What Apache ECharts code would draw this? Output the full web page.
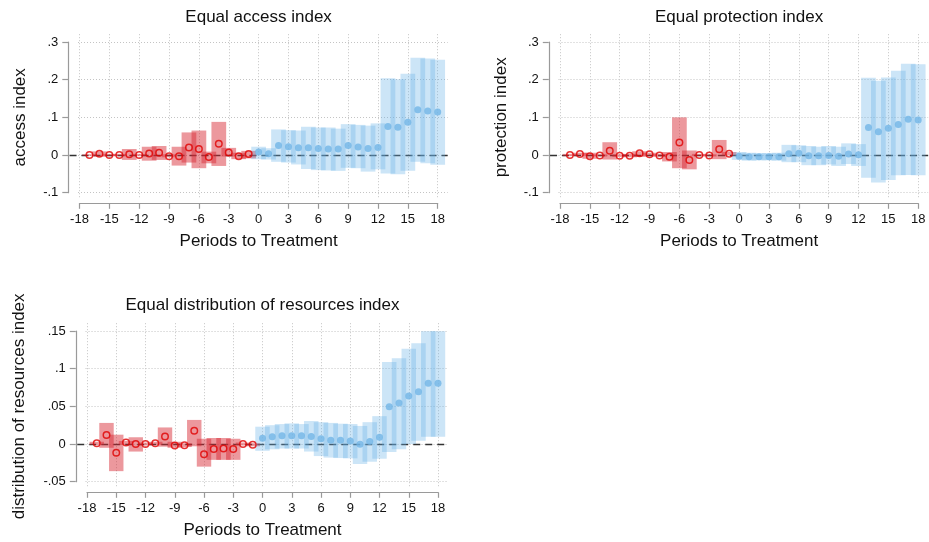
<!DOCTYPE html>
<html>
<head>
<meta charset="utf-8">
<title>Event study: equality indices</title>
<script src="https://cdn.jsdelivr.net/npm/echarts@6/dist/echarts.min.js"></script>
<style>
  html, body { margin: 0; padding: 0; background: #fff; }
  #chart { width: 929px; height: 542px; }
</style>
</head>
<body>
<div id="chart"></div>
<script>
// Periods relative to treatment: pre-treatment leads and post-treatment lags
const prePeriods  = [-17, -16, -15, -14, -13, -12, -11, -10, -9, -8, -7, -6, -5, -4, -3, -2, -1];
const postPeriods = [0, 1, 2, 3, 4, 5, 6, 7, 8, 9, 10, 11, 12, 13, 14, 15, 16, 17, 18];
const xTickValues = [-18, -15, -12, -9, -6, -3, 0, 3, 6, 9, 12, 15, 18];

// Equal access index
const accessPreEst = [0, 0.0035, 0, 0, 0.002, 0, 0.004, 0.006, -0.003, -0.003, 0.02, 0.016, -0.005, 0.03, 0.007, -0.003, 0.003];
const accessPreLo  = [-0.002, -0.0044, -0.003, -0.003, -0.013, -0.003, -0.015, -0.013, -0.006, -0.028, -0.02, -0.035, -0.022, -0.029, -0.004, -0.011, -0.009];
const accessPreHi  = [0.002, 0.0097, 0.003, 0.003, 0.016, 0.003, 0.022, 0.024, 0.002, 0.022, 0.06, 0.065, 0.009, 0.088, 0.019, 0.006, 0.011];
const accessPostEst = [0.008, 0.0035, 0.025, 0.022, 0.019, 0.019, 0.017, 0.016, 0.016, 0.025, 0.021, 0.017, 0.02, 0.076, 0.074, 0.087, 0.12, 0.117, 0.114];
const accessPostLo  = [-0.011, -0.012, -0.018, -0.02, -0.025, -0.037, -0.04, -0.041, -0.042, -0.034, -0.035, -0.044, -0.038, -0.049, -0.051, -0.042, -0.018, -0.022, -0.026];
const accessPostHi  = [0.022, 0.018, 0.068, 0.066, 0.065, 0.075, 0.073, 0.073, 0.07, 0.082, 0.08, 0.078, 0.084, 0.204, 0.201, 0.216, 0.258, 0.256, 0.253];

// Equal protection index
const protectPreEst = [0, 0.003, -0.0035, -0.001, 0.0115, -0.002, -0.002, 0.0045, 0.002, -0.001, -0.0045, 0.033, -0.013, 0, -0.001, 0.015, 0.0035];
const protectPreLo  = [-0.003, -0.002, -0.01, -0.004, -0.012, -0.005, -0.006, -0.005, -0.002, -0.005, -0.017, -0.035, -0.038, -0.003, -0.004, -0.011, -0.001];
const protectPreHi  = [0.003, 0.006, 0.006, 0.002, 0.034, 0.002, 0.003, 0.01, 0.006, 0.003, 0.008, 0.1, 0.012, 0.003, 0.002, 0.04, 0.008];
const protectPostEst = [-0.003, -0.0045, -0.0045, -0.0045, -0.0045, 0.0035, 0.0045, -0.002, -0.002, -0.001, -0.003, 0.003, 0.001, 0.073, 0.062, 0.071, 0.081, 0.095, 0.093];
const protectPostLo  = [-0.013, -0.015, -0.014, -0.014, -0.015, -0.019, -0.019, -0.027, -0.027, -0.025, -0.029, -0.024, -0.029, -0.06, -0.073, -0.066, -0.054, -0.053, -0.054];
const protectPostHi  = [0.008, 0.006, 0.005, 0.005, 0.006, 0.027, 0.026, 0.024, 0.022, 0.024, 0.022, 0.031, 0.029, 0.205, 0.197, 0.206, 0.224, 0.242, 0.241];

// Equal distribution of resources index
const distribPreEst = [0.001, 0.012, -0.0115, 0.002, 0, 0, 0.001, 0.01, -0.002, -0.0015, 0.0177, -0.0137, -0.0066, -0.006, -0.0066, 0, -0.001];
const distribPreLo  = [-0.001, -0.005, -0.036, -0.001, -0.01, -0.002, -0.001, -0.0035, -0.005, -0.004, -0.003, -0.03, -0.021, -0.021, -0.021, -0.002, -0.003];
const distribPreHi  = [0.003, 0.028, 0.0124, 0.004, 0.009, 0.002, 0.003, 0.022, 0.003, 0.001, 0.032, 0.007, 0.008, 0.008, 0.007, 0.002, 0.001];
const distribPostEst = [0.0075, 0.0097, 0.011, 0.011, 0.011, 0.01, 0.007, 0.005, 0.005, 0.004, -0.0004, 0.0035, 0.009, 0.0496, 0.0544, 0.0637, 0.0695, 0.0805, 0.0805];
const distribPostLo  = [-0.009, -0.007, -0.006, -0.006, -0.006, -0.01, -0.016, -0.018, -0.0186, -0.019, -0.0265, -0.0235, -0.0195, -0.0106, -0.007, 0, 0.0044, 0.0097, 0.0097];
const distribPostHi  = [0.023, 0.025, 0.0265, 0.0274, 0.0265, 0.0305, 0.029, 0.028, 0.027, 0.0265, 0.024, 0.029, 0.037, 0.109, 0.114, 0.1265, 0.1336, 0.1496, 0.1496];

// Y tick values and their printed labels
const indexTickValues = [-0.1, 0, 0.1, 0.2, 0.3];
const indexTickLabels = ['-.1', '0', '.1', '.2', '.3'];
const distribTickValues = [-0.05, 0, 0.05, 0.1, 0.15];
const distribTickLabels = ['-.05', '0', '.05', '.1', '.15'];

const FONT = '"Liberation Sans", Arial, Helvetica, sans-serif';
const X_LO = -18, X_HI = 18, X_PAD = 1;
const PAD_TOP = 9, PAD_BOTTOM = 4.5;
const BAR_HALF = 0.74;
const PRE_FILL = 'rgba(215, 40, 50, 0.48)';
const POST_FILL = 'rgba(100, 175, 230, 0.33)';
const PRE_POINT = '#e00000';
const POST_POINT = '#72b5e6';
const AXIS_GRAY = '#9a9a9a';
const TEXT = '#111';

const panels = [
  {
    title: 'Equal access index', yName: 'access index', yNameGap: 39,
    box: { x0: 79.5, x1: 437.7, y0: 42, y1: 192.7 }, titleTop: 9,
    yTicks: indexTickValues, yLabels: indexTickLabels, yStep: 0.1,
    pre: [accessPreEst, accessPreLo, accessPreHi],
    post: [accessPostEst, accessPostLo, accessPostHi]
  },
  {
    title: 'Equal protection index', yName: 'protection index', yNameGap: 39,
    box: { x0: 560, x1: 918.2, y0: 42, y1: 192.7 }, titleTop: 9,
    yTicks: indexTickValues, yLabels: indexTickLabels, yStep: 0.1,
    pre: [protectPreEst, protectPreLo, protectPreHi],
    post: [protectPostEst, protectPostLo, protectPostHi]
  },
  {
    title: 'Equal distribution of resources index', yName: 'distribution of resources index', yNameGap: 48,
    box: { x0: 87, x1: 438, y0: 331, y1: 481.7 }, titleTop: 297,
    yTicks: distribTickValues, yLabels: distribTickLabels, yStep: 0.05,
    pre: [distribPreEst, distribPreLo, distribPreHi],
    post: [distribPostEst, distribPostLo, distribPostHi]
  }
];

function ciRenderer(fill) {
  return function (params, api) {
    const x = api.value(0), lo = api.value(1), hi = api.value(2);
    const a = api.coord([x - BAR_HALF, hi]);
    const b = api.coord([x + BAR_HALF, lo]);
    return {
      type: 'rect',
      shape: { x: a[0], y: a[1], width: b[0] - a[0], height: b[1] - a[1] },
      style: { fill: fill }
    };
  };
}

function labelFor(values, labels) {
  return function (v) {
    const i = values.findIndex(t => Math.abs(t - v) < 1e-6);
    return i >= 0 ? labels[i] : '';
  };
}

const option = {
  animation: false,
  backgroundColor: '#ffffff',
  title: [], grid: [], xAxis: [], yAxis: [], series: []
};

panels.forEach(p => {
  const b = p.box;
  const xPx = (b.x1 - b.x0) / (X_HI - X_LO);
  const yLo = p.yTicks[0], yHi = p.yTicks[p.yTicks.length - 1];
  const yPx = (b.y1 - b.y0) / (yHi - yLo);

  option.title.push({
    text: p.title, left: (b.x0 + b.x1) / 2, top: p.titleTop, textAlign: 'center', padding: 0,
    textStyle: { fontFamily: FONT, fontSize: 17, fontWeight: 'normal', color: TEXT }
  });

  // axis frame: spans exactly the tick range
  const gA = option.grid.length;
  option.grid.push({ left: b.x0, top: b.y0, width: b.x1 - b.x0, height: b.y1 - b.y0, containLabel: false, outerBoundsMode: 'none' });
  // plot region: one period wider on each side, a little taller
  const gD = gA + 1;
  option.grid.push({
    left: b.x0 - X_PAD * xPx, top: b.y0 - PAD_TOP,
    width: (b.x1 - b.x0) + 2 * X_PAD * xPx, height: (b.y1 - b.y0) + PAD_TOP + PAD_BOTTOM,
    containLabel: false, outerBoundsMode: 'none'
  });

  const xa = option.xAxis.length;
  option.xAxis.push({
    gridIndex: gA, type: 'value', position: 'bottom', min: X_LO, max: X_HI, interval: 3, offset: 10.6,
    axisLine: { show: true, onZero: false, lineStyle: { color: AXIS_GRAY, width: 1.2 } },
    axisTick: { show: true, length: 5.5, lineStyle: { color: AXIS_GRAY, width: 1.2 } },
    axisLabel: { margin: 10, fontFamily: FONT, fontSize: 13, color: TEXT },
    splitLine: { show: false },
    name: 'Periods to Treatment', nameLocation: 'middle', nameGap: 30,
    nameTextStyle: { fontFamily: FONT, fontSize: 17, color: TEXT }
  });
  option.xAxis.push({ gridIndex: gD, type: 'value', min: X_LO - X_PAD, max: X_HI + X_PAD, show: false });

  const ya = option.yAxis.length;
  option.yAxis.push({
    gridIndex: gA, type: 'value', position: 'left', min: yLo, max: yHi, interval: p.yStep, offset: 11.2,
    axisLine: { show: true, onZero: false, lineStyle: { color: AXIS_GRAY, width: 1.2 } },
    axisTick: { show: true, length: 6, lineStyle: { color: AXIS_GRAY, width: 1.2 } },
    axisLabel: { margin: 10, fontFamily: FONT, fontSize: 13, color: TEXT, formatter: labelFor(p.yTicks, p.yLabels) },
    splitLine: { show: false },
    name: p.yName, nameLocation: 'middle', nameGap: p.yNameGap,
    nameTextStyle: { fontFamily: FONT, fontSize: 17, color: TEXT }
  });
  option.yAxis.push({ gridIndex: gD, type: 'value', min: yLo - PAD_BOTTOM / yPx, max: yHi + PAD_TOP / yPx, show: false });

  const xi = xa + 1, yi = ya + 1;
  const xEdge = X_HI + X_PAD;

  // dotted grid
  const gridLines = p.yTicks.map(v => [{ coord: [X_LO - 0.15, v] }, { coord: [xEdge, v] }])
    .concat(xTickValues.map(v => ({ xAxis: v })));
  option.series.push({
    type: 'line', xAxisIndex: xi, yAxisIndex: yi, data: [], silent: true, z: 1,
    markLine: {
      silent: true, animation: false, symbol: ['none', 'none'], z: 1,
      label: { show: false },
      lineStyle: { color: '#c4c4c4', type: [1, 2], width: 1 },
      emphasis: { disabled: true },
      data: gridLines
    }
  });
  // zero reference line
  option.series.push({
    type: 'line', xAxisIndex: xi, yAxisIndex: yi, data: [], silent: true, z: 2,
    markLine: {
      silent: true, animation: false, symbol: ['none', 'none'], z: 2,
      label: { show: false },
      lineStyle: { color: '#333333', type: [7, 5], width: 1.4 },
      emphasis: { disabled: true },
      data: [{ yAxis: 0 }]
    }
  });

  const groups = [
    { periods: prePeriods, vals: p.pre, fill: PRE_FILL, hollow: true },
    { periods: postPeriods, vals: p.post, fill: POST_FILL, hollow: false }
  ];
  groups.forEach(g => {
    const [est, lo, hi] = g.vals;
    option.series.push({
      type: 'custom', xAxisIndex: xi, yAxisIndex: yi, z: 3, silent: true,
      renderItem: ciRenderer(g.fill),
      encode: { x: 0, y: [1, 2] },
      data: g.periods.map((t, i) => [t, lo[i], hi[i]])
    });
  });
  groups.forEach(g => {
    const est = g.vals[0];
    option.series.push({
      type: 'scatter', xAxisIndex: xi, yAxisIndex: yi, z: 4, silent: true,
      symbol: 'circle', symbolSize: g.hollow ? 6.5 : 7,
      itemStyle: g.hollow
        ? { color: 'rgba(255,255,255,0)', borderColor: PRE_POINT, borderWidth: 1.5 }
        : { color: POST_POINT, borderWidth: 0 },
      data: g.periods.map((t, i) => [t, est[i]])
    });
  });
});

const chart = echarts.init(document.getElementById('chart'), null, { renderer: 'canvas' });
chart.setOption(option);
</script>
</body>
</html>
